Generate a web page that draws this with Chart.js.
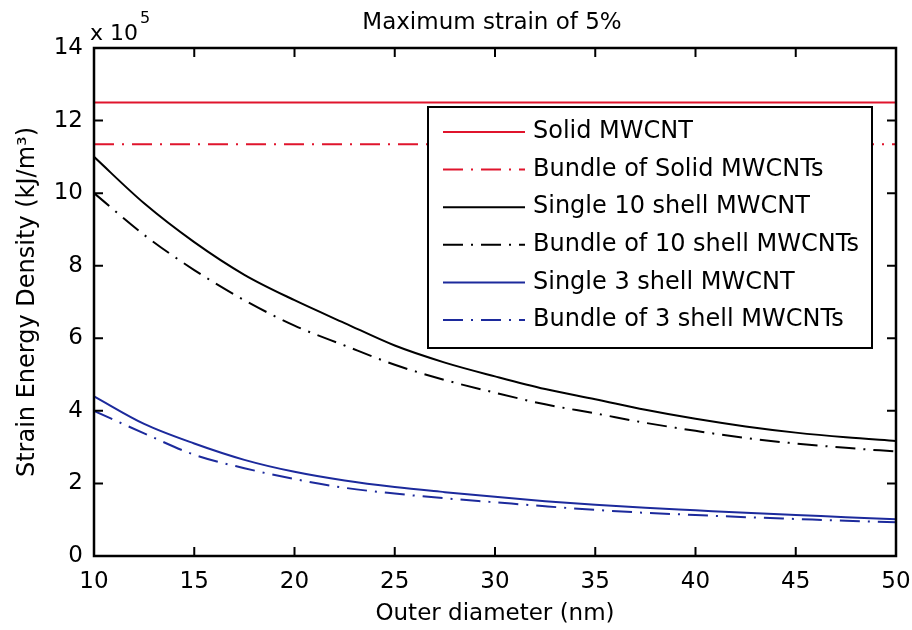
<!DOCTYPE html>
<html>
<head>
<meta charset="utf-8">
<title>Maximum strain of 5%</title>
<script src="https://cdn.jsdelivr.net/npm/chart.js@4.4.1/dist/chart.umd.min.js"></script>
<style>
  html, body { margin: 0; padding: 0; background: #fff; }
  #chart { display: block; }
</style>
</head>
<body>
<canvas id="chart" width="912" height="630"></canvas>
<script>
// ── Datos (energía x 10^5 kJ/m³ vs diámetro exterior nm) ─────────────────────
const DIAM = [10, 12.5, 15, 17.5, 20, 22.5, 25, 27.5, 30, 32.5, 35, 37.5, 40, 42.5, 45, 47.5, 50];
const DIAM_SOLID = [10, 50];

const SOLID = [12.5, 12.5];
const BUNDLE_SOLID = [11.35, 11.35];
const SHELL10 = [11.0, 9.72, 8.65, 7.75, 7.05, 6.42, 5.80, 5.33, 4.95, 4.60, 4.32, 4.03, 3.78, 3.57, 3.40, 3.27, 3.17];
const BUNDLE10 = [10.0, 8.85, 7.88, 7.05, 6.35, 5.80, 5.27, 4.85, 4.50, 4.18, 3.93, 3.67, 3.45, 3.25, 3.10, 2.98, 2.88];
const SHELL3 = [4.40, 3.64, 3.10, 2.65, 2.32, 2.08, 1.90, 1.76, 1.63, 1.51, 1.41, 1.33, 1.26, 1.19, 1.13, 1.07, 1.01];
const BUNDLE3 = [4.00, 3.38, 2.79, 2.42, 2.12, 1.88, 1.72, 1.59, 1.48, 1.37, 1.27, 1.19, 1.13, 1.07, 1.02, 0.97, 0.93];

const X_TICKS = [10, 15, 20, 25, 30, 35, 40, 45, 50];
const Y_TICKS = [0, 2, 4, 6, 8, 10, 12, 14];

const RED = '#e0142c';
const BLACK = '#000000';
const BLUE = '#1c2a9c';
const DASHDOT = [20, 8, 2, 8];
const FONT = 'DejaVu Sans';

const pts = (xs, ys) => xs.map((x, i) => ({ x, y: ys[i] }));

function serie(label, xs, ys, color, dash) {
  return {
    label,
    data: pts(xs, ys),
    borderColor: color,
    borderWidth: 2,
    borderDash: dash || [],
    pointRadius: 0,
    fill: false,
    cubicInterpolationMode: 'monotone',
  };
}

// ── Marco estilo MATLAB con ticks hacia dentro + leyenda ─────────────────────
const framePlugin = {
  id: 'frame',
  afterDatasetsDraw(chart) {
    const { ctx, chartArea: a, scales } = chart;
    const T = 9;
    ctx.save();
    ctx.strokeStyle = '#000';
    ctx.lineWidth = 2.5;
    ctx.strokeRect(a.left, a.top, a.right - a.left, a.bottom - a.top);
    ctx.lineWidth = 2;
    ctx.beginPath();
    X_TICKS.forEach(v => {
      const px = scales.x.getPixelForValue(v);
      ctx.moveTo(px, a.bottom); ctx.lineTo(px, a.bottom - T);
      ctx.moveTo(px, a.top); ctx.lineTo(px, a.top + T);
    });
    Y_TICKS.forEach(v => {
      const py = scales.y.getPixelForValue(v);
      ctx.moveTo(a.left, py); ctx.lineTo(a.left + T, py);
      ctx.moveTo(a.right, py); ctx.lineTo(a.right - T, py);
    });
    ctx.stroke();

    // leyenda
    const box = { x: 428, y: 107, w: 444, h: 241 };
    ctx.fillStyle = '#fff';
    ctx.fillRect(box.x, box.y, box.w, box.h);
    ctx.lineWidth = 2;
    ctx.strokeStyle = '#000';
    ctx.strokeRect(box.x, box.y, box.w, box.h);
    ctx.font = '24px "' + FONT + '"';
    ctx.textBaseline = 'middle';
    ctx.textAlign = 'left';
    chart.data.datasets.forEach((ds, i) => {
      const y = 132 + i * 37.6;
      ctx.strokeStyle = ds.borderColor;
      ctx.lineWidth = 2;
      ctx.setLineDash(ds.borderDash);
      ctx.beginPath();
      ctx.moveTo(443, y); ctx.lineTo(525, y);
      ctx.stroke();
      ctx.setLineDash([]);
      ctx.fillStyle = '#000';
      ctx.fillText(ds.label, 533, y);
    });
    ctx.restore();
  },
  afterDraw(chart) {
    const { ctx } = chart;
    ctx.save();
    ctx.fillStyle = '#000';
    ctx.textBaseline = 'alphabetic';
    ctx.textAlign = 'center';
    ctx.font = '23px "' + FONT + '"';
    ctx.fillText('Maximum strain of 5%', 492, 29);
    ctx.textAlign = 'left';
    ctx.font = '22px "' + FONT + '"';
    ctx.fillText('x 10', 90, 40);
    ctx.font = '16px "' + FONT + '"';
    ctx.fillText('5', 140, 23);
    ctx.restore();
  },
};

new Chart(document.getElementById('chart'), {
  type: 'line',
  data: {
    datasets: [
      serie('Solid MWCNT', DIAM_SOLID, SOLID, RED),
      serie('Bundle of Solid MWCNTs', DIAM_SOLID, BUNDLE_SOLID, RED, DASHDOT),
      serie('Single 10 shell MWCNT', DIAM, SHELL10, BLACK),
      serie('Bundle of 10 shell MWCNTs', DIAM, BUNDLE10, BLACK, DASHDOT),
      serie('Single 3 shell MWCNT', DIAM, SHELL3, BLUE),
      serie('Bundle of 3 shell MWCNTs', DIAM, BUNDLE3, BLUE, DASHDOT),
    ],
  },
  options: {
    responsive: false,
    animation: false,
    layout: { padding: { top: 48, right: 16, left: 0, bottom: 0 } },
    plugins: { legend: { display: false }, tooltip: { enabled: false } },
    scales: {
      x: {
        type: 'linear',
        min: 10, max: 50,
        afterFit: s => { s.height = 74; s.paddingLeft = 0; s.paddingRight = 0; },
        grid: { display: false, drawTicks: false },
        border: { display: false },
        ticks: {
          stepSize: 5, autoSkip: false, maxRotation: 0, padding: 12,
          color: '#000', font: { size: 23, family: FONT },
        },
        title: {
          display: true, text: 'Outer diameter (nm)', color: '#000',
          font: { size: 23, family: FONT }, padding: { top: 0, bottom: 2 },
        },
      },
      y: {
        min: 0, max: 14,
        afterFit: s => { s.width = 94; s.paddingTop = 0; s.paddingBottom = 0; },
        grid: { display: false, drawTicks: false },
        border: { display: false },
        ticks: {
          stepSize: 2, padding: 11,
          color: '#000', font: { size: 23, family: FONT },
        },
        title: {
          display: true, text: 'Strain Energy Density (kJ/m³)', color: '#000',
          font: { size: 24, family: FONT }, padding: { top: 13, bottom: 0 },
        },
      },
    },
  },
  plugins: [framePlugin],
});
</script>
</body>
</html>
